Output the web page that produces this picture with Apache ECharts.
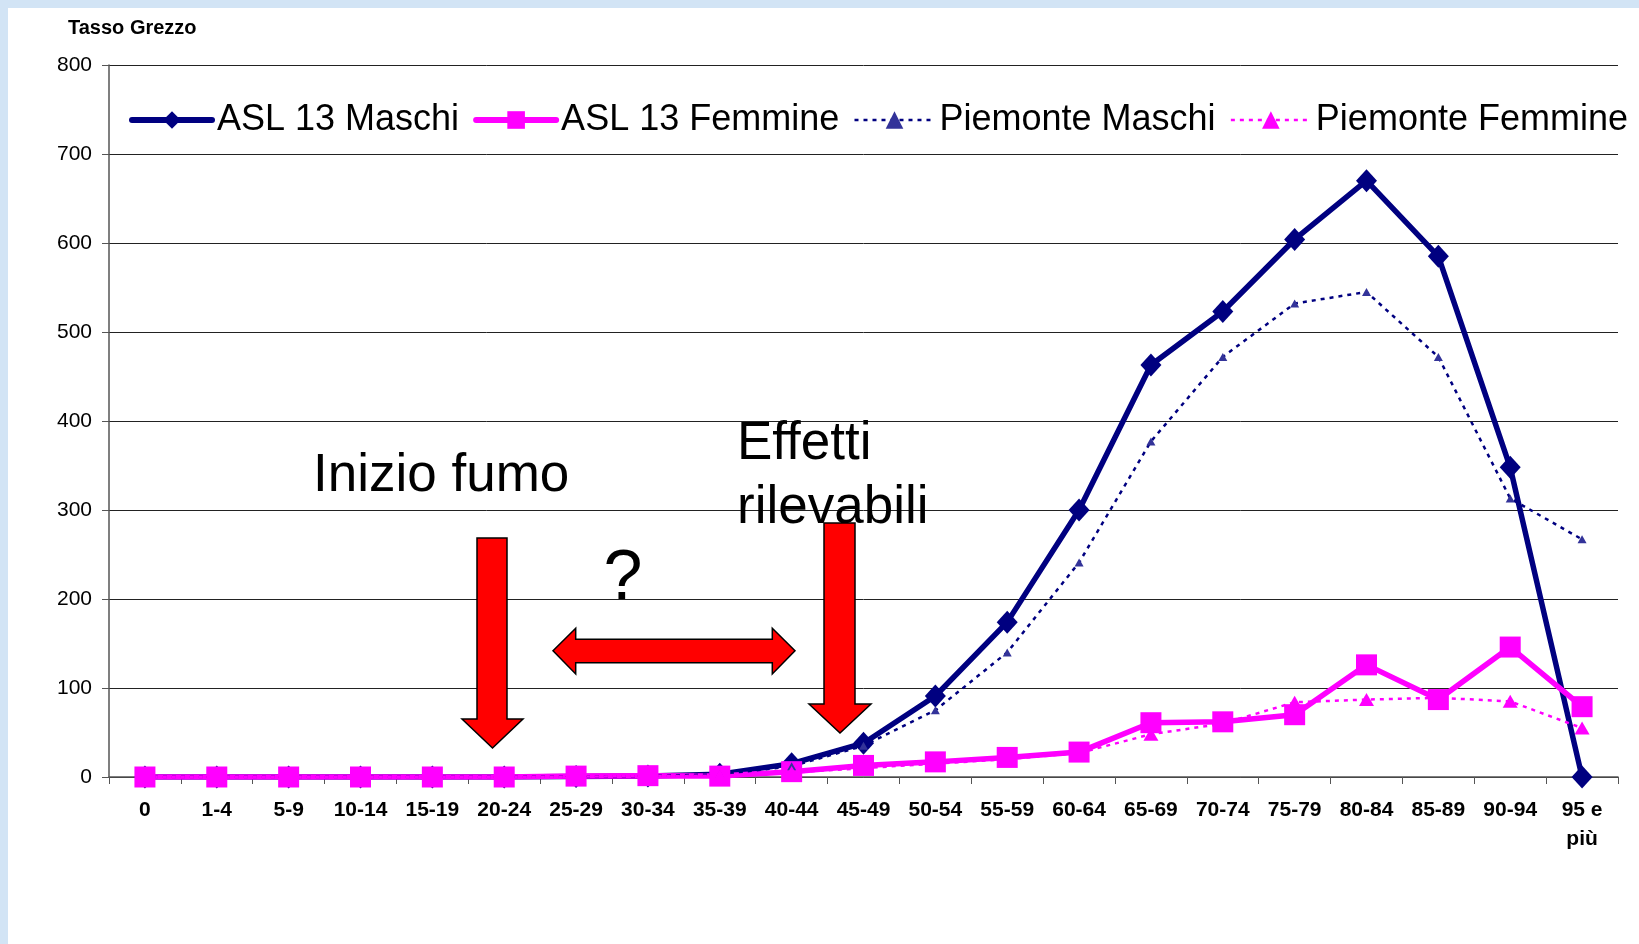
<!DOCTYPE html>
<html>
<head>
<meta charset="utf-8">
<title>Tasso Grezzo</title>
<script src="https://cdn.jsdelivr.net/npm/echarts@6/dist/echarts.min.js"></script>
<style>
  html, body { margin: 0; padding: 0; width: 1639px; height: 944px; background: #d2e4f5; overflow: hidden; }
  #chart { position: absolute; left: 8px; top: 8px; width: 1631px; height: 936px; background: #fff; }
</style>
</head>
<body>
<div id="chart"></div>
<script>
// fasce d'eta
const categories = ['0', '1-4', '5-9', '10-14', '15-19', '20-24', '25-29', '30-34', '35-39', '40-44',
  '45-49', '50-54', '55-59', '60-64', '65-69', '70-74', '75-79', '80-84', '85-89', '90-94', '95 e\npiù'];

// tassi grezzi
const aslMaschi = [0, 0, 0, 0, 0, 0, 0.5, 1, 3, 15, 38, 91, 174, 300, 463, 523, 604, 670, 585, 348, 0];
const aslFemmine = [0, 0, 0, 0, 0, 0, 1, 1.5, 1, 6, 13, 17, 22, 28, 61, 62, 70, 126, 87, 146, 79];
const piemonteMaschi = [0, 0, 0, 0, 0, 0, 0.5, 1, 3, 12, 35, 75, 140, 241, 377, 472, 532, 545, 472, 313, 267];
const piemonteFemmine = [0, 0, 0, 0, 0, 0, 0.5, 1, 1.5, 5, 10, 15, 20, 27, 48, 60, 84, 87, 89, 85, 55];

const yTicks = [0, 100, 200, 300, 400, 500, 600, 700, 800];

const FONT = '"Liberation Sans", Arial, sans-serif';

const chart = echarts.init(document.getElementById('chart'));

const option = {
  animation: false,
  title: {
    text: 'Tasso Grezzo',
    left: 60,
    top: 10,
    padding: 0,
    textStyle: { fontFamily: FONT, fontSize: 20, fontWeight: 'bold', color: '#000' }
  },
  legend: {
    left: 121,
    top: 94,
    padding: 0,
    itemWidth: 80,
    itemHeight: 22,
    itemGap: 14,
    textStyle: { fontFamily: FONT, fontSize: 36, color: '#000' },
    data: [
      { name: 'ASL 13 Maschi', lineStyle: { width: 6, cap: 'round' } },
      { name: 'ASL 13 Femmine', lineStyle: { width: 6, cap: 'round' } },
      { name: 'Piemonte Maschi', lineStyle: { width: 2.5 } },
      { name: 'Piemonte Femmine', lineStyle: { width: 2.5 } }
    ]
  },
  grid: { left: 101, right: 21, top: 57, bottom: 167, containLabel: false },
  xAxis: {
    type: 'category',
    data: categories,
    boundaryGap: true,
    axisLine: { lineStyle: { color: '#555', width: 1.5 } },
    axisTick: { show: true, length: 7, lineStyle: { color: '#555' } },
    axisLabel: {
      interval: 0,
      margin: 19,
      fontFamily: FONT,
      fontSize: 21,
      fontWeight: 'bold',
      color: '#000',
      lineHeight: 29
    },
    splitLine: { show: false }
  },
  yAxis: {
    type: 'value',
    min: yTicks[0],
    max: yTicks[yTicks.length - 1],
    interval: 100,
    axisLine: { show: true, lineStyle: { color: '#555', width: 1.5 } },
    axisTick: { show: true, length: 7, lineStyle: { color: '#555' } },
    axisLabel: { margin: 17, fontFamily: FONT, fontSize: 21, color: '#000' },
    splitLine: { show: true, lineStyle: { color: '#222', width: 1 } }
  },
  series: [
    {
      name: 'ASL 13 Maschi',
      type: 'line',
      data: aslMaschi,
      symbol: 'diamond',
      symbolSize: [21, 23],
      showAllSymbol: true,
      itemStyle: { color: '#000080' },
      lineStyle: { color: '#000080', width: 5.5, cap: 'round' },
      emphasis: { disabled: true }
    },
    {
      name: 'ASL 13 Femmine',
      type: 'line',
      data: aslFemmine,
      symbol: 'rect',
      symbolSize: 21,
      showAllSymbol: true,
      itemStyle: { color: '#FF00FF' },
      lineStyle: { color: '#FF00FF', width: 5.5, cap: 'round' },
      emphasis: { disabled: true }
    },
    {
      name: 'Piemonte Maschi',
      type: 'line',
      data: piemonteMaschi,
      symbol: 'triangle',
      symbolSize: [9, 8],
      showAllSymbol: true,
      itemStyle: { color: '#333399' },
      lineStyle: { color: '#000080', width: 2.5, type: [4, 5] },
      emphasis: { disabled: true }
    },
    {
      name: 'Piemonte Femmine',
      type: 'line',
      data: piemonteFemmine,
      symbol: 'triangle',
      symbolSize: [15, 13],
      showAllSymbol: true,
      itemStyle: { color: '#FF00FF' },
      lineStyle: { color: '#FF00FF', width: 2.5, type: [4, 5] },
      emphasis: { disabled: true }
    }
  ],
  // frecce e scritte sovrapposte
  graphic: [
    {
      type: 'text', x: 305, y: 468, z: 100,
      style: { text: 'Inizio fumo', font: '53px ' + FONT, fill: '#000', align: 'left', verticalAlign: 'middle' }
    },
    {
      type: 'text', x: 729, y: 436, z: 100,
      style: { text: 'Effetti', font: '53px ' + FONT, fill: '#000', align: 'left', verticalAlign: 'middle' }
    },
    {
      type: 'text', x: 729, y: 500, z: 100,
      style: { text: 'rilevabili', font: '53px ' + FONT, fill: '#000', align: 'left', verticalAlign: 'middle' }
    },
    {
      type: 'text', x: 615, y: 572, z: 100,
      style: { text: '?', font: '70px ' + FONT, fill: '#000', align: 'center', verticalAlign: 'middle' }
    },
    {
      type: 'polygon', z: 101,
      shape: { points: [[469, 530], [499, 530], [499, 711], [515, 711], [484.5, 740], [454, 711], [469, 711]] },
      style: { fill: '#FF0000', stroke: '#000', lineWidth: 1.5 }
    },
    {
      type: 'polygon', z: 101,
      shape: { points: [[816, 515], [847, 515], [847, 696], [863, 696], [832, 725], [801, 696], [816, 696]] },
      style: { fill: '#FF0000', stroke: '#000', lineWidth: 1.5 }
    },
    {
      type: 'polygon', z: 101,
      shape: { points: [[545, 642.7], [567.7, 620.3], [567.7, 631.3], [764.3, 631.3], [764.3, 620.3], [787, 642.7],
        [764.3, 666], [764.3, 654.7], [567.7, 654.7], [567.7, 666]] },
      style: { fill: '#FF0000', stroke: '#000', lineWidth: 1.5 }
    }
  ]
};

chart.setOption(option);
</script>
</body>
</html>
